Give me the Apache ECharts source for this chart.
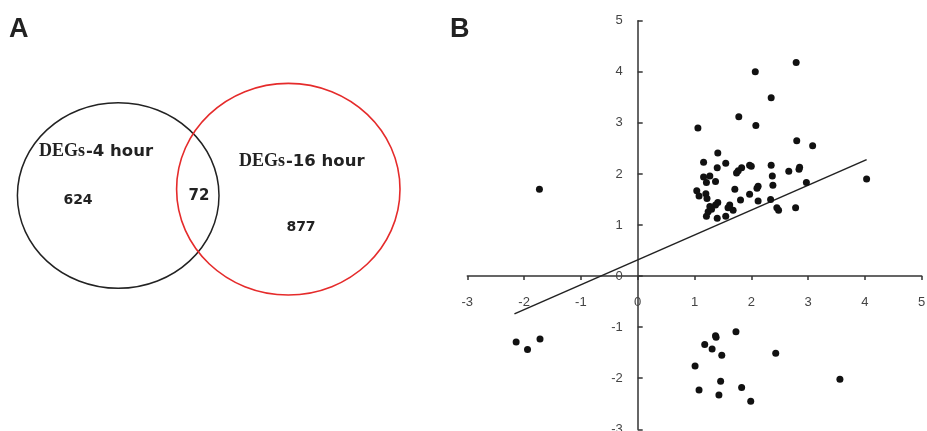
<!DOCTYPE html>
<html>
<head>
<meta charset="utf-8">
<script src="https://cdn.jsdelivr.net/npm/echarts@6/dist/echarts.min.js"></script>
<style>
html,body{margin:0;padding:0;background:#fff;}
#chart{width:927px;height:431px;}
</style>
</head>
<body>
<div id="chart"></div>
<script>
// ---- Panel A: Venn data ----
var vennSets = ['DEGs', 'DEGs'];
var vennSetSuffix = ['-4 hour', '-16 hour'];
var vennCounts = [624, 72, 877]; // only 4h, overlap, only 16h

// ---- Panel B: scatter data ----
var pointsLeft = [[-1.73,1.70],[-2.14,-1.29],[-1.94,-1.44],[-1.72,-1.23]];
var pointsUpper = [
  [2.07,4.00],[2.79,4.18],[2.35,3.49],[1.78,3.12],[2.08,2.95],[1.06,2.90],
  [2.80,2.65],[3.08,2.55],[1.41,2.41],[1.16,2.23],[1.55,2.21],[1.40,2.12],
  [1.83,2.12],[1.77,2.06],[1.74,2.02],[1.97,2.17],[2.00,2.15],[2.35,2.17],
  [2.37,1.96],[2.66,2.05],[2.85,2.13],[2.84,2.09],[2.97,1.83],[4.03,1.90],
  [1.16,1.94],[1.27,1.96],[1.21,1.83],[1.37,1.85],[1.04,1.67],[1.08,1.57],
  [1.20,1.61],[1.22,1.52],[1.71,1.70],[2.12,1.76],[2.10,1.72],[2.38,1.78],
  [1.97,1.60],[2.12,1.47],[1.81,1.49],[2.34,1.50],[1.41,1.44],[1.37,1.39],
  [1.62,1.39],[1.68,1.29],[1.59,1.34],[1.27,1.36],[1.24,1.26],[1.21,1.17],
  [1.30,1.31],[1.40,1.13],[1.55,1.17],[2.45,1.34],[2.48,1.29],[2.78,1.34]
];
var pointsLower = [
  [1.73,-1.09],[1.37,-1.17],[1.38,-1.20],[1.18,-1.34],[1.31,-1.43],[1.48,-1.55],
  [1.01,-1.76],[2.43,-1.51],[1.46,-2.06],[3.56,-2.02],[1.08,-2.23],[1.83,-2.18],
  [1.43,-2.33],[1.99,-2.45]
];
var trendLine = [[-2.17,-0.74],[4.03,2.28]];
var axisRange = {min: -3, max: 5};

var chart = echarts.init(document.getElementById('chart'), null, {renderer: 'canvas'});

var G = {left: 467.3, top: 20.7, width: 454.4, height: 408.6};
// pixel distance from grid edges to the zero lines (layout only)
var span = axisRange.max - axisRange.min;
var xZeroOffset = -G.height * (0 - axisRange.min) / span;  // move x axis up to y=0
var yZeroOffset = -G.width * (0 - axisRange.min) / span;   // move y axis right to x=0

var sansB = 'DejaVu Sans';
var option = {
  animation: false,
  backgroundColor: '#ffffff',
  grid: {left: G.left, top: G.top, width: G.width, height: G.height, containLabel: false, outerBoundsMode: 'none'},
  xAxis: {
    type: 'value', min: axisRange.min, max: axisRange.max, interval: 1,
    position: 'bottom', offset: xZeroOffset,
    splitLine: {show: false},
    axisLine: {onZero: false, lineStyle: {color: '#333', width: 1.5}},
    axisTick: {show: true, inside: false, length: 4, lineStyle: {color: '#333', width: 1.5}},
    axisLabel: {margin: 20, color: '#444', fontSize: 13, fontFamily: 'Liberation Sans',
      formatter: function (v) { return String(v); }}
  },
  yAxis: {
    type: 'value', min: axisRange.min, max: axisRange.max, interval: 1,
    position: 'left', offset: yZeroOffset,
    splitLine: {show: false},
    axisLine: {onZero: false, lineStyle: {color: '#333', width: 1.5}},
    axisTick: {show: true, inside: true, length: 5, lineStyle: {color: '#333', width: 1.5}},
    axisLabel: {margin: 15, color: '#444', fontSize: 13, fontFamily: 'Liberation Sans',
      formatter: function (v) { return String(v); }}
  },
  series: [
    {type: 'line', data: trendLine, symbol: 'none', lineStyle: {color: '#222', width: 1.6}, z: 3, silent: true},
    {type: 'scatter', data: pointsLeft.concat(pointsUpper, pointsLower), symbol: 'circle', symbolSize: 7,
     itemStyle: {color: '#111', opacity: 1}, z: 4}
  ],
  graphic: [
    {type: 'text', left: 9, top: 16, style: {text: 'A', font: 'bold 27px "Liberation Sans"', fill: '#222'}},
    {type: 'text', left: 450, top: 16, style: {text: 'B', font: 'bold 27px "Liberation Sans"', fill: '#222'}},
    {type: 'ellipse', shape: {cx: 118.2, cy: 195.5, rx: 100.8, ry: 92.8},
     style: {fill: 'none', stroke: '#222', lineWidth: 1.5}, z: 10},
    {type: 'ellipse', shape: {cx: 288.3, cy: 189.2, rx: 111.7, ry: 105.8},
     style: {fill: 'none', stroke: '#e52b2b', lineWidth: 1.6}, z: 11},
    {type: 'text', x: 39, y: 160, style: {text: vennSets[0], font: 'bold 18px "Liberation Serif"', fill: '#222', textVerticalAlign: 'bottom', textAlign: 'left'}, z: 12},
    {type: 'text', x: 86, y: 160, style: {text: vennSetSuffix[0], font: 'bold 16.5px "' + sansB + '"', fill: '#222', textVerticalAlign: 'bottom', textAlign: 'left'}, z: 12},
    {type: 'text', x: 239, y: 170, style: {text: vennSets[1], font: 'bold 18px "Liberation Serif"', fill: '#222', textVerticalAlign: 'bottom', textAlign: 'left'}, z: 12},
    {type: 'text', x: 286, y: 170, style: {text: vennSetSuffix[1], font: 'bold 16.5px "' + sansB + '"', fill: '#222', textVerticalAlign: 'bottom', textAlign: 'left'}, z: 12},
    {type: 'text', x: 78, y: 200, style: {text: String(vennCounts[0]), font: 'bold 14px "' + sansB + '"', fill: '#222', textAlign: 'center', textVerticalAlign: 'middle'}, z: 12},
    {type: 'text', x: 199, y: 196, style: {text: String(vennCounts[1]), font: 'bold 15px "' + sansB + '"', fill: '#222', textAlign: 'center', textVerticalAlign: 'middle'}, z: 12},
    {type: 'text', x: 301, y: 227.5, style: {text: String(vennCounts[2]), font: 'bold 14px "' + sansB + '"', fill: '#222', textAlign: 'center', textVerticalAlign: 'middle'}, z: 12}
  ]
};
chart.setOption(option);
</script>
</body>
</html>
